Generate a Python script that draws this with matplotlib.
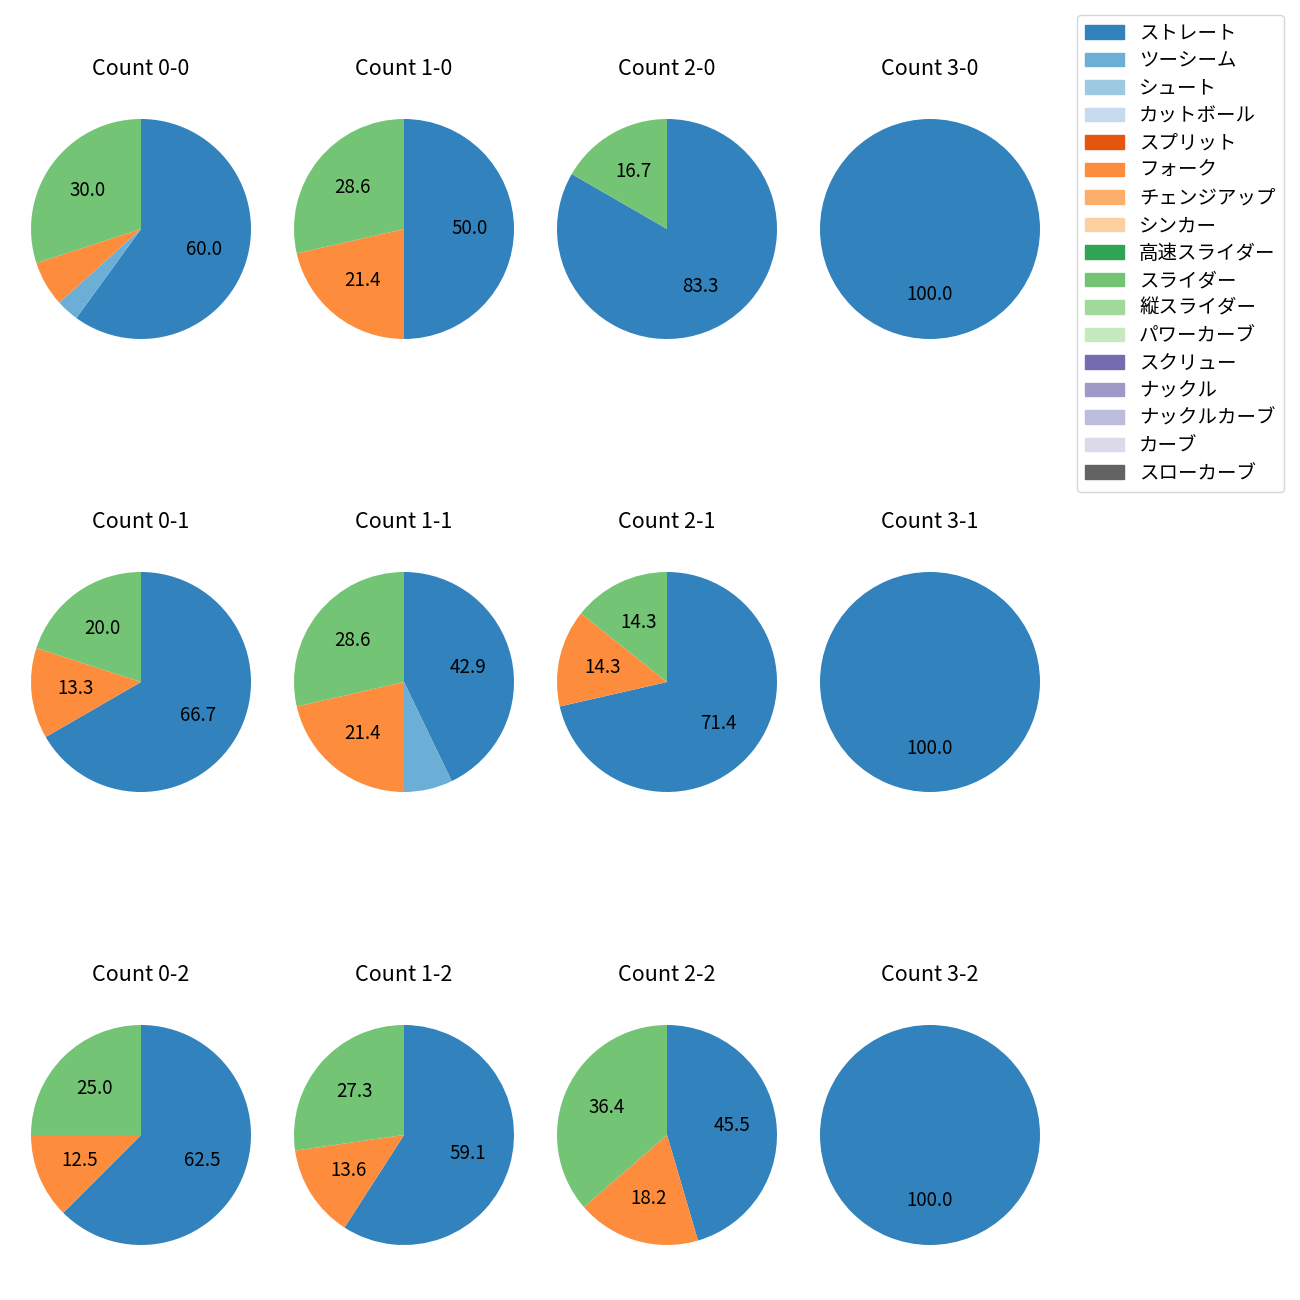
import matplotlib
matplotlib.use('Agg')
import matplotlib.pyplot as plt
from matplotlib.patches import Patch

plt.rcParams['font.family'] = ['Noto Sans CJK JP', 'DejaVu Sans']

# 球種 (凡例の順番)
pitch_types = ['ストレート', 'ツーシーム', 'シュート', 'カットボール', 'スプリット', 'フォーク',
               'チェンジアップ', 'シンカー', '高速スライダー', 'スライダー', '縦スライダー',
               'パワーカーブ', 'スクリュー', 'ナックル', 'ナックルカーブ', 'カーブ', 'スローカーブ']

# カウント別の球数 (ストレート, ツーシーム, フォーク, スライダー)
counts = ['0-0', '1-0', '2-0', '3-0',
          '0-1', '1-1', '2-1', '3-1',
          '0-2', '1-2', '2-2', '3-2']
straight = [18, 7, 5, 1, 10, 6, 5, 1, 5, 13, 5, 1]
twoseam  = [1, 0, 0, 0, 0, 1, 0, 0, 0, 0, 0, 0]
fork     = [2, 3, 0, 0, 2, 3, 1, 0, 1, 3, 2, 0]
slider   = [9, 4, 1, 0, 3, 4, 1, 0, 2, 6, 4, 0]

cmap = plt.get_cmap('tab20c')
colors = [cmap(i) for i in range(len(pitch_types))]
idx = {'ストレート': 0, 'ツーシーム': 1, 'フォーク': 5, 'スライダー': 9}


def pct_label(p):
    return f'{p:.1f}' if p >= 10 else ''


W = H = 1300
fig, axes = plt.subplots(3, 4, figsize=(13, 13))
side = 275  # 円の半径が約110pxになる軸サイズ
for i, ax in enumerate(axes.flat):
    r, col = divmod(i, 4)
    cx = 141 + 263 * col
    cy = 229 + 453 * r
    ax.set_position([(cx - side / 2) / W, 1 - (cy + side / 2) / H, side / W, side / H])

    vals = [straight[i], twoseam[i], fork[i], slider[i]]
    names = ['ストレート', 'ツーシーム', 'フォーク', 'スライダー']
    v = [x for x in vals if x > 0]
    c = [colors[idx[n]] for n, x in zip(names, vals) if x > 0]
    ax.pie(v, colors=c, startangle=90, counterclock=False,
           autopct=pct_label, textprops={'fontsize': 13.5})
    ax.set_title(f'Count {counts[i]}', fontsize=15.5, pad=12)

handles = [Patch(color=colors[i], label=pitch_types[i]) for i in range(len(pitch_types))]
fig.legend(handles=handles, loc='upper left', bbox_to_anchor=(1077 / W, 1 - 15 / H),
           borderaxespad=0, fontsize=14, labelspacing=0.335)

fig.savefig('out.png', dpi=100)
